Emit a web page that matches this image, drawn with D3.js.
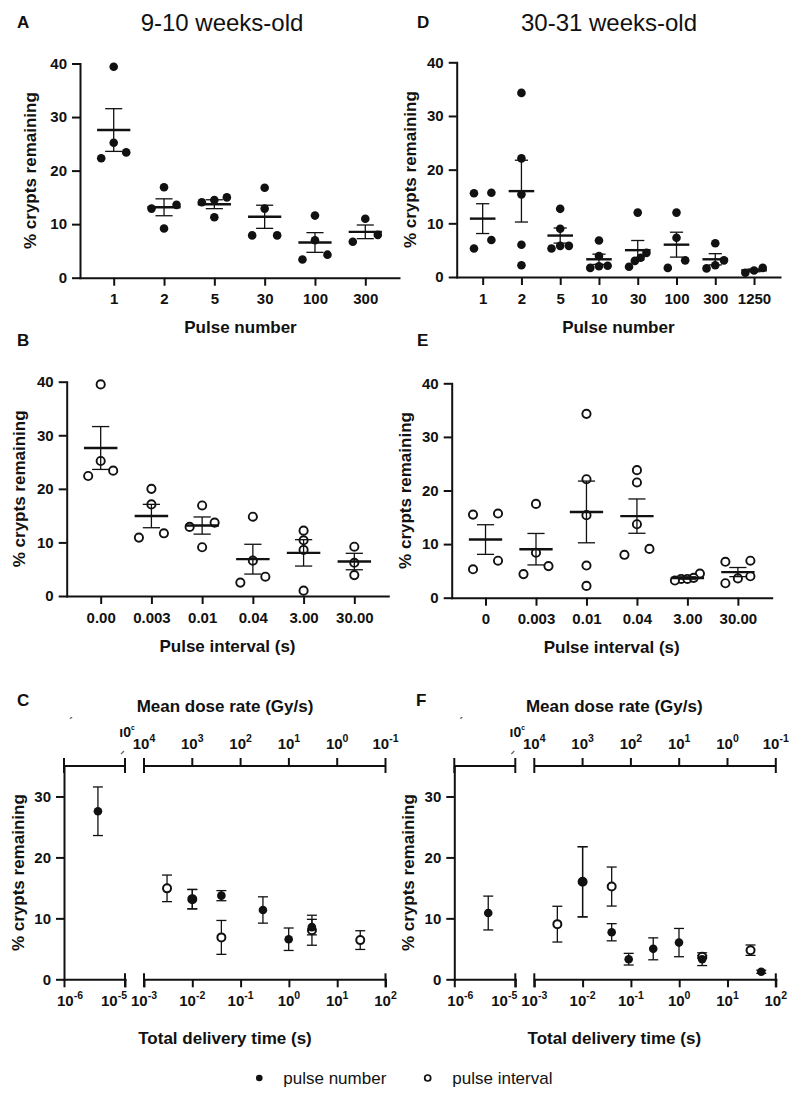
<!DOCTYPE html>
<html><head><meta charset="utf-8">
<script src="https://cdn.jsdelivr.net/npm/d3@7"></script>
<style>
body{margin:0;background:#fff}
svg text{font-family:"Liberation Sans",Arial,Helvetica,sans-serif}
</style>
</head><body>
<svg id="chart" width="800" height="1099"></svg>
<script>
// ---------------- DATA ----------------
const youngPulseNumbers = ["1","2","5","30","100","300"];
const youngPulseNumberValues = [
  [39.4, 25.2, 22.3, 23.4],
  [16.9, 13.6, 12.9, 9.2],
  [15.0, 14.5, 14.1, 11.3],
  [16.8, 12.9, 7.9, 7.9],
  [11.6, 7.0, 3.4, 4.3],
  [11.0, 6.7, 8.0]
];
const youngIntervals = ["0.00","0.003","0.01","0.04","3.00","30.00"];
const youngIntervalValues = [
  [39.5, 25.2, 22.4, 23.4],
  [20.0, 17.1, 10.9, 11.7],
  [16.9, 13.7, 12.9, 9.1],
  [14.8, 6.6, 3.6, 2.5],
  [12.2, 10.4, 8.6, 1.0],
  [9.2, 6.2, 3.9]
];
const oldPulseNumbers = ["1","2","5","10","30","100","300","1250"];
const oldPulseNumberValues = [
  [15.6, 15.7, 6.9, 5.3],
  [34.3, 22.1, 15.4, 6.0, 2.2],
  [12.7, 9.0, 5.3, 5.8, 5.8],
  [6.8, 3.9, 1.7, 2.1, 2.0],
  [12.0, 4.5, 3.6, 3.0, 1.9],
  [12.0, 7.3, 3.1, 1.7],
  [6.3, 3.1, 2.2, 1.6],
  [0.8, 1.7, 1.2]
];
const oldIntervals = ["0","0.003","0.01","0.04","3.00","30.00"];
const oldIntervalValues = [
  [15.5, 15.7, 6.9, 5.3],
  [17.5, 8.4, 5.9, 4.4],
  [34.3, 22.1, 15.4, 6.0, 2.2],
  [23.8, 21.5, 13.7, 9.1, 8.0],
  [3.5, 4.5, 3.5, 3.7, 3.2],
  [6.9, 6.7, 2.7, 4.0, 3.6]
];
// total delivery time (s) of each group, for panels C and F
const youngPulseTimes = [3.6e-6, 0.01, 0.04, 0.29, 0.99, 2.99];
const youngIntervalTimes = [null, 0.003, 0.01, 0.04, 3, 30];
const oldPulseTimes = [3.6e-6, 0.01, 0.04, 0.09, 0.29, 0.99, 2.99, 50];
const oldIntervalTimes = [null, 0.003, 0.01, 0.04, 3, 30];
const timeExponentsLeft = [-6, -5];
const timeExponentsRight = [-3, -2, -1, 0, 1, 2];
const doseRateExponents = [4, 3, 2, 1, 0, -1];
const yTicksCat = [0, 10, 20, 30, 40];
const yTicksTime = [0, 10, 20, 30];

// ---------------- DRAWING ----------------
const svg = d3.select("#chart");
const ink = "#111";
const FONT = '"Liberation Sans",Arial,Helvetica,sans-serif';

function styleAxis(sel){
  sel.attr("font-family", FONT).attr("font-size", 15).attr("font-weight", "bold");
  sel.select(".domain").attr("stroke", ink).attr("stroke-width", 2).attr("stroke-linecap", "square");
  sel.selectAll(".tick line").attr("stroke", ink).attr("stroke-width", 2);
  sel.selectAll(".tick text").attr("fill", ink);
}
function sem(a){ return d3.deviation(a) / Math.sqrt(a.length); }

// cluster-based swarm offsets
function swarm(values, y, d, T){
  const idx = values.map((v,i)=>i).sort((a,b)=>values[a]-values[b]);
  const offs = new Array(values.length).fill(0);
  const clusters = [];
  let cur = [idx[0]];
  for (let k=1;k<idx.length;k++){
    if (Math.abs(y(values[idx[k]]) - y(values[idx[k-1]])) < T) cur.push(idx[k]);
    else { clusters.push(cur); cur = [idx[k]]; }
  }
  clusters.push(cur);
  clusters.forEach(c=>{
    const n = c.length;
    let pos;
    if (n===1) pos=[0];
    else if (n===2) pos=[-d,d];
    else pos = c.map((_,j)=>-d + 2*d*j/(n-1));
    c.forEach((i,j)=>offs[i]=pos[j]);
  });
  return offs;
}

function letter(x, y, t){
  svg.append("text").attr("x",x).attr("y",y).attr("font-size",17).attr("font-weight","bold")
    .attr("fill",ink).text(t);
}
function yLabel(x, yc, t){
  svg.append("text").attr("transform",`translate(${x},${yc}) rotate(-90)`)
    .attr("text-anchor","middle").attr("font-size",17).attr("font-weight","bold").attr("fill",ink).text(t);
}
function xLabel(xc, y, t){
  svg.append("text").attr("x",xc).attr("y",y).attr("text-anchor","middle")
    .attr("font-size",17).attr("font-weight","bold").attr("fill",ink).text(t);
}

function categoryPanel(o){
  const x = d3.scalePoint().domain(o.cats).range([o.left, o.right]).padding(0.67);
  const y = d3.scaleLinear().domain([0,40]).range([o.bottom, o.top]);
  const g = svg.append("g");
  g.append("g").attr("transform",`translate(0,${o.bottom})`)
    .call(d3.axisBottom(x).tickSize(8).tickSizeOuter(0).tickPadding(8)).call(styleAxis);
  g.append("g").attr("transform",`translate(${o.left},0)`)
    .call(d3.axisLeft(y).tickValues(yTicksCat).tickSize(8).tickSizeOuter(0).tickPadding(5)).call(styleAxis);
  const step = x.step();
  const capHalf = step*0.17, meanHalf = step*0.33;
  o.groups.forEach((vals,i)=>{
    const cx = x(o.cats[i]);
    const offs = swarm(vals, y, o.d, 9);
    vals.forEach((v,j)=>{
      const c = g.append("circle").attr("cx",cx+offs[j]).attr("cy",y(v));
      if (o.filled) c.attr("r",4.3).attr("fill",ink);
      else c.attr("r",4.1).attr("fill","#fff").attr("stroke",ink).attr("stroke-width",1.9);
    });
    const m = d3.mean(vals), s = sem(vals);
    g.append("line").attr("x1",cx).attr("x2",cx).attr("y1",y(m+s)).attr("y2",y(m-s)).attr("stroke",ink).attr("stroke-width",1.3);
    [m+s, m-s].forEach(v=>g.append("line").attr("x1",cx-capHalf).attr("x2",cx+capHalf)
      .attr("y1",y(v)).attr("y2",y(v)).attr("stroke",ink).attr("stroke-width",1.3));
    g.append("line").attr("x1",cx-meanHalf).attr("x2",cx+meanHalf).attr("y1",y(m)).attr("y2",y(m))
      .attr("stroke",ink).attr("stroke-width",2.4);
  });
  yLabel(o.left - o.labelGap, (o.top+o.bottom)/2, "% crypts remaining");
  xLabel((o.left+o.right)/2 + o.titleShift, o.bottom + 55.5, o.xTitle);
}

function powText(g, x, y, exp, anchor){
  const t = g.append("text").attr("x",x).attr("y",y).attr("text-anchor",anchor||"middle")
    .attr("font-size",15).attr("font-weight","bold").attr("fill",ink);
  t.append("tspan").text("10");
  t.append("tspan").attr("dy",-7).attr("font-size",10.5).text(exp<0 ? "-"+(-exp) : String(exp));
}

function timePanel(o){
  const ax = o.ax, bottom = 979.3, top = 766;
  const y = d3.scaleLinear().domain([0,35]).range([bottom, top]);
  const xL = d3.scaleLog().domain([1e-6,1e-5]).range([ax, ax+61]);
  const xR = d3.scaleLog().domain([1e-3,1e2]).range([ax+80, ax+321.5]);
  const xt = t => t < 1e-4 ? xL(t) : xR(t);
  const g = svg.append("g");
  const line = (x1,y1,x2,y2,w)=>g.append("line").attr("x1",x1).attr("y1",y1).attr("x2",x2).attr("y2",y2)
    .attr("stroke",ink).attr("stroke-width",w||2);
  // y axis
  g.append("g").attr("transform",`translate(${ax},0)`)
    .call(d3.axisLeft(y).tickValues(yTicksTime).tickSize(8).tickSizeOuter(0).tickPadding(5)).call(styleAxis);
  // bottom axis segments
  [xL, xR].forEach((sc, k)=>{
    const exps = k===0 ? timeExponentsLeft : timeExponentsRight;
    g.append("g").attr("transform",`translate(0,${bottom})`)
      .call(d3.axisBottom(sc).tickValues(exps.map(e=>Math.pow(10,e))).tickSize(8).tickSizeOuter(0).tickFormat(()=>""))
      .call(styleAxis);
    const r = sc.range();
    if (k===1) line(r[0], bottom-6, r[0], bottom+8);
    line(r[1], bottom-6, r[1], bottom+8);
    // top axis segment
    line(r[0], top, r[1], top);
    line(r[0], top-8, r[0], top+7);
    line(r[1], top-8, r[1], top+7);
  });
  // bottom tick labels
  powText(g, xL(1e-6)-7, bottom+27, timeExponentsLeft[0], "start");
  powText(g, xL(1e-5)+2, bottom+27, timeExponentsLeft[1], "end");
  timeExponentsRight.forEach(e=>powText(g, xR(Math.pow(10,e)), bottom+27, e, "middle"));
  // top axis (dose rate = 10 Gy / time)
  doseRateExponents.forEach((e,i)=>{
    const xx = xR(10/Math.pow(10,e));
    if (i>0 && i<doseRateExponents.length-1) line(xx, top, xx, top-8);
    powText(g, xx, top-17.5, e, "middle");
  });
  // clipped fragments of the left top labels
  g.append("text").attr("x",ax+5).attr("y",727).attr("font-size",12).attr("font-weight","bold").attr("fill","#555").text("ˊ");
  g.append("text").attr("x",xL(1e-5)+2).attr("y",737).attr("text-anchor","middle").attr("font-size",14)
    .attr("font-weight","bold").attr("fill",ink).text("ı0").append("tspan").attr("dy",-5).attr("font-size",10).text("ᶜ");
  line(xL(1e-5)-4, 754, xL(1e-5)-1, 751, 1.2).attr("stroke","#666");
  // data (means ± SEM)
  const pts = [];
  o.intervalGroups.forEach((vals,i)=>{ if (o.intervalTimes[i]!=null) pts.push({t:o.intervalTimes[i], v:vals, filled:false}); });
  o.pulseGroups.forEach((vals,i)=>pts.push({t:o.pulseTimes[i], v:vals, filled:true}));
  pts.forEach(p=>{
    const cx = xt(p.t), m = d3.mean(p.v), s = sem(p.v);
    line(cx, y(m+s), cx, y(m-s), 1.3);
    [m+s, m-s].forEach(v=>line(cx-5, y(v), cx+5, y(v), 1.3));
  });
  pts.filter(p=>!p.filled).forEach(p=>g.append("circle").attr("cx",xt(p.t)).attr("cy",y(d3.mean(p.v)))
    .attr("r",4).attr("fill","#fff").attr("stroke",ink).attr("stroke-width",2));
  pts.filter(p=>p.filled).forEach(p=>g.append("circle").attr("cx",xt(p.t)).attr("cy",y(d3.mean(p.v)))
    .attr("r",4.3).attr("fill",ink));
  yLabel(ax-40, (top+bottom)/2, "% crypts remaining");
  xLabel(ax + o.titleX, 712, "Mean dose rate (Gy/s)");
  xLabel(ax + o.titleX, 1044, "Total delivery time (s)");
}

// titles and panel letters
svg.append("text").attr("x",222).attr("y",30.5).attr("text-anchor","middle").attr("font-family","Lato")
  .attr("font-size",24).attr("fill",ink).text("9-10 weeks-old");
svg.append("text").attr("x",609).attr("y",30.5).attr("text-anchor","middle").attr("font-family","Lato")
  .attr("font-size",24).attr("fill",ink).text("30-31 weeks-old");
letter(17,28,"A"); letter(417,28,"D");
letter(17,346,"B"); letter(417,346,"E");
letter(17,706,"C"); letter(416,706,"F");

categoryPanel({cats:youngPulseNumbers, groups:youngPulseNumberValues, filled:true,
  left:80, right:399, top:63.5, bottom:277.7, d:12.5, labelGap:44, xTitle:"Pulse number", titleShift:1});
categoryPanel({cats:oldPulseNumbers, groups:oldPulseNumberValues, filled:true,
  left:456.7, right:780, top:62.3, bottom:277, d:8.7, labelGap:41, xTitle:"Pulse number", titleShift:0});
categoryPanel({cats:youngIntervals, groups:youngIntervalValues, filled:false,
  left:66.7, right:388.3, top:381.7, bottom:596, d:12.5, labelGap:42, xTitle:"Pulse interval (s)", titleShift:0});
categoryPanel({cats:oldIntervals, groups:oldIntervalValues, filled:false,
  left:451.7, right:771.7, top:383.3, bottom:597.7, d:12.5, labelGap:41, xTitle:"Pulse interval (s)", titleShift:0});

timePanel({ax:64, pulseGroups:youngPulseNumberValues, pulseTimes:youngPulseTimes,
  intervalGroups:youngIntervalValues, intervalTimes:youngIntervalTimes, titleX:161});
timePanel({ax:454.3, pulseGroups:oldPulseNumberValues, pulseTimes:oldPulseTimes,
  intervalGroups:oldIntervalValues, intervalTimes:oldIntervalTimes, titleX:160});

// legend
const lg = svg.append("g");
lg.append("circle").attr("cx",259.3).attr("cy",1078).attr("r",3.3).attr("fill",ink);
lg.append("text").attr("x",283.3).attr("y",1083.5).attr("font-size",17).attr("fill",ink).text("pulse number");
lg.append("circle").attr("cx",427.7).attr("cy",1078).attr("r",3).attr("fill","#fff").attr("stroke",ink).attr("stroke-width",1.7);
lg.append("text").attr("x",452.3).attr("y",1083.5).attr("font-size",17).attr("fill",ink).text("pulse interval");
</script>
</body></html>
